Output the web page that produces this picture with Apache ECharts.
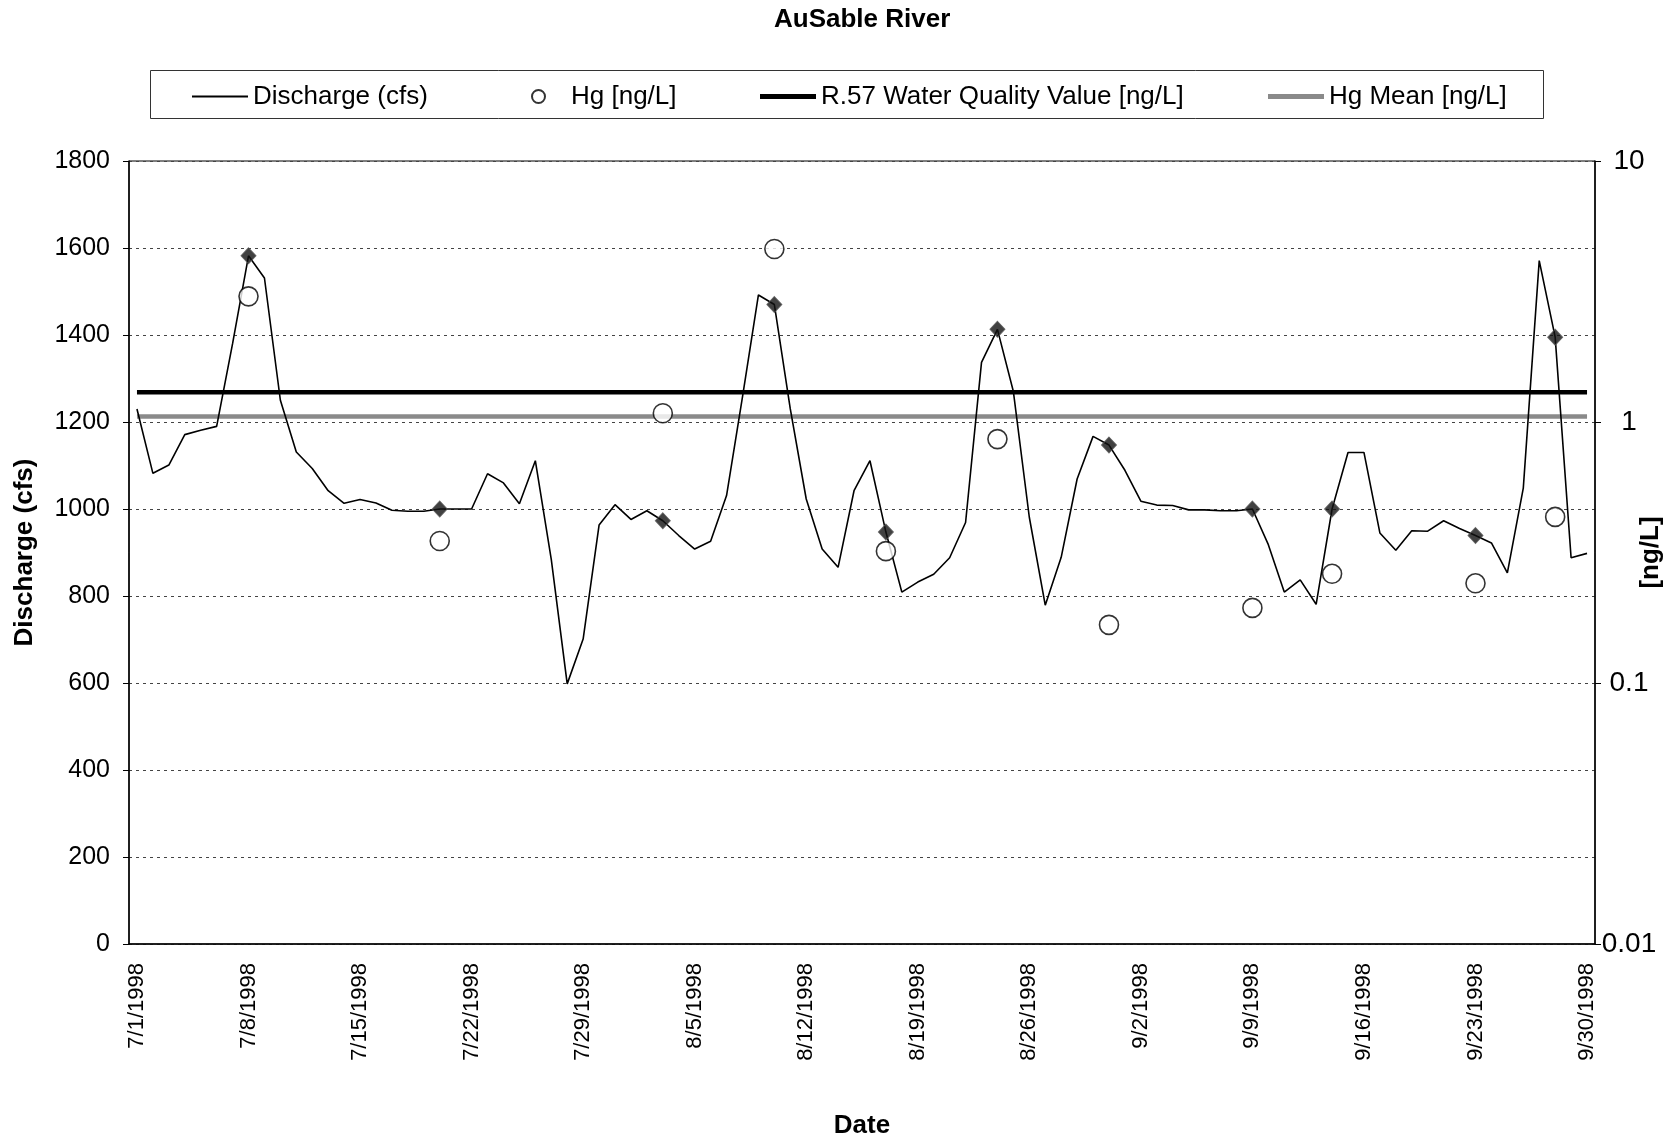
<!DOCTYPE html>
<html>
<head>
<meta charset="utf-8">
<title>AuSable River</title>
<script src="https://cdn.jsdelivr.net/npm/echarts@6/dist/echarts.min.js"></script>
<style>
  html, body { margin: 0; padding: 0; background: #ffffff; }
  #chart { width: 1672px; height: 1141px; }
</style>
</head>
<body>
<div id="chart"></div>
<script>
// Daily dates, 7/1/1998 through 9/30/1998
const MONTHS = [[7, 31], [8, 31], [9, 30]];
const DATES = [];
MONTHS.forEach(([m, n]) => { for (let d = 1; d <= n; d++) DATES.push(m + '/' + d + '/1998'); });

// Daily mean discharge (cfs), one value per date
const DISCHARGE = [
  1230, 1082, 1101, 1171, 1181, 1190, 1380, 1582, 1531, 1250,
  1131, 1093, 1042, 1013, 1022, 1014,  997,  995,  995, 1000,
  1000, 1000, 1081, 1060, 1012, 1111,  884,  598,  701,  963,
  1010,  976,  996,  973,  939,  908,  926, 1031, 1258, 1492,
  1470, 1230, 1023,  908,  866, 1042, 1111,  947,  809,  832,
   850,  888,  969, 1337, 1413, 1270,  981,  779,  889, 1069,
  1167, 1147, 1089, 1018, 1009, 1008,  998,  998,  996,  996,
  1000,  918,  809,  837,  781, 1000, 1130, 1130,  945,  905,
   950,  949,  973,  955,  939,  922,  853, 1048, 1571, 1395,
   888,  898
];

// Mercury sampling dates and measured concentrations (ng/L)
const SAMPLE_DATES = ['7/8/1998', '7/20/1998', '8/3/1998', '8/10/1998', '8/17/1998', '8/24/1998',
                      '8/31/1998', '9/9/1998', '9/14/1998', '9/23/1998', '9/28/1998'];
const HG = [3.03, 0.35, 1.08, 4.6, 0.32, 0.86, 0.167, 0.194, 0.262, 0.241, 0.433];

// Reference levels (ng/L)
const WQV = 1.3;      // R.57 water quality value
const HG_MEAN = 1.05; // mean of sampled Hg

// Axis ticks
const Q_TICKS = [0, 200, 400, 600, 800, 1000, 1200, 1400, 1600, 1800];
const HG_TICKS = ['0.01', '0.1', '1', '10'];

const FONT = '"Liberation Sans", Arial, sans-serif';
const first = 0, last = DATES.length - 1;

const chart = echarts.init(document.getElementById('chart'), null, { renderer: 'canvas' });

// One legend block per entry so each sits at its own spot inside the frame
const legendBase = {
  orient: 'horizontal', top: 83.5, padding: 0, itemGap: 0, itemWidth: 56, selectedMode: false,
  textStyle: { fontFamily: FONT, fontSize: 26, color: '#000' }
};

chart.setOption({
  backgroundColor: '#ffffff',
  animation: false,
  title: {
    text: 'AuSable River', left: 774, top: 7, padding: 0,
    textStyle: { fontFamily: FONT, fontSize: 26, fontWeight: 'bold', color: '#000' }
  },
  legend: [
    Object.assign({}, legendBase, { left: 192, itemHeight: 2,
      data: [{ name: 'Discharge (cfs)', icon: 'rect' }] }),
    Object.assign({}, legendBase, { left: 531, itemWidth: 13, itemHeight: 13,
      textStyle: { fontFamily: FONT, fontSize: 26, color: '#000', padding: [0, 0, 0, 21] },
      data: [{ name: 'Hg [ng/L]', icon: 'circle' }] }),
    Object.assign({}, legendBase, { left: 760, itemHeight: 5,
      data: [{ name: 'R.57 Water Quality Value [ng/L]', icon: 'rect' }] }),
    Object.assign({}, legendBase, { left: 1268, itemHeight: 5,
      data: [{ name: 'Hg Mean [ng/L]', icon: 'rect' }] })
  ],
  graphic: [{
    type: 'rect', left: 148, top: 68, silent: true,
    shape: { width: 1393, height: 48 },
    style: { fill: 'none', stroke: '#333', lineWidth: 1 }
  }],
  grid: {
    left: 129, right: 77, top: 161, height: 783,
    containLabel: false, outerBoundsMode: 'none',
    show: true, borderColor: '#000', borderWidth: 1, backgroundColor: 'transparent'
  },
  xAxis: {
    type: 'category', data: DATES, boundaryGap: true,
    name: 'Date', nameLocation: 'middle', nameGap: 169, nameMoveOverlap: false,
    nameTextStyle: { fontFamily: FONT, fontSize: 26, fontWeight: 'bold', color: '#000' },
    axisLine: { lineStyle: { color: '#000', width: 1.5 } },
    axisTick: { interval: 6, length: 6, lineStyle: { color: '#000' } },
    axisLabel: { interval: 6, rotate: 90, margin: 19, fontFamily: FONT, fontSize: 22, color: '#000' },
    splitLine: { show: false }
  },
  yAxis: [{
    type: 'value', position: 'left', min: Q_TICKS[0], max: Q_TICKS[Q_TICKS.length - 1], interval: 200,
    name: 'Discharge (cfs)', nameLocation: 'middle', nameRotate: 90, nameGap: 91, nameMoveOverlap: false,
    nameTextStyle: { fontFamily: FONT, fontSize: 26, fontWeight: 'bold', color: '#000' },
    axisLine: { show: true, lineStyle: { color: '#000', width: 1.5 } },
    axisTick: { show: true, length: 6, lineStyle: { color: '#000' } },
    axisLabel: { margin: 19, fontFamily: FONT, fontSize: 25, color: '#000', formatter: v => String(v) },
    splitLine: { show: true, lineStyle: { color: '#444', width: 1, type: [3, 4] } }
  }, {
    type: 'log', logBase: 10, position: 'right', min: 0.01, max: 10,
    name: '[ng/L]', nameLocation: 'middle', nameRotate: 90, nameGap: 43, nameMoveOverlap: false,
    nameTextStyle: { fontFamily: FONT, fontSize: 26, fontWeight: 'bold', color: '#000' },
    axisLine: { show: true, lineStyle: { color: '#000', width: 1.5 } },
    axisTick: { show: true, length: 6, lineStyle: { color: '#000' } },
    minorTick: { show: false },
    axisLabel: {
      margin: 34, align: 'center', fontFamily: FONT, fontSize: 28, color: '#000',
      formatter: v => HG_TICKS[Math.round(Math.log10(v)) + 2]
    },
    splitLine: { show: false }
  }],
  series: [{
    name: 'Discharge (cfs)', type: 'line', yAxisIndex: 0, data: DISCHARGE,
    symbol: 'none', lineStyle: { color: '#000', width: 1.6 }, itemStyle: { color: '#000' }, z: 3
  }, {
    name: 'Sampled discharge', type: 'scatter', yAxisIndex: 0,
    data: SAMPLE_DATES.map(d => [d, DISCHARGE[DATES.indexOf(d)]]),
    symbol: 'diamond', symbolSize: [15, 16],
    itemStyle: { color: '#111', borderColor: '#555', borderWidth: 1 }, z: 4
  }, {
    name: 'R.57 Water Quality Value [ng/L]', type: 'line', yAxisIndex: 1,
    data: [[first, WQV], [last, WQV]], symbol: 'none',
    lineStyle: { color: '#000', width: 4.5 }, itemStyle: { color: '#000' }, z: 2
  }, {
    name: 'Hg Mean [ng/L]', type: 'line', yAxisIndex: 1,
    data: [[first, HG_MEAN], [last, HG_MEAN]], symbol: 'none',
    lineStyle: { color: '#8a8a8a', width: 4.5 }, itemStyle: { color: '#8a8a8a' }, z: 2
  }, {
    name: 'Hg [ng/L]', type: 'scatter', yAxisIndex: 1,
    data: SAMPLE_DATES.map((d, i) => [d, HG[i]]),
    symbol: 'circle', symbolSize: 19,
    itemStyle: { color: '#fff', borderColor: '#000', borderWidth: 1.6 }, z: 5
  }]
});
</script>
</body>
</html>
